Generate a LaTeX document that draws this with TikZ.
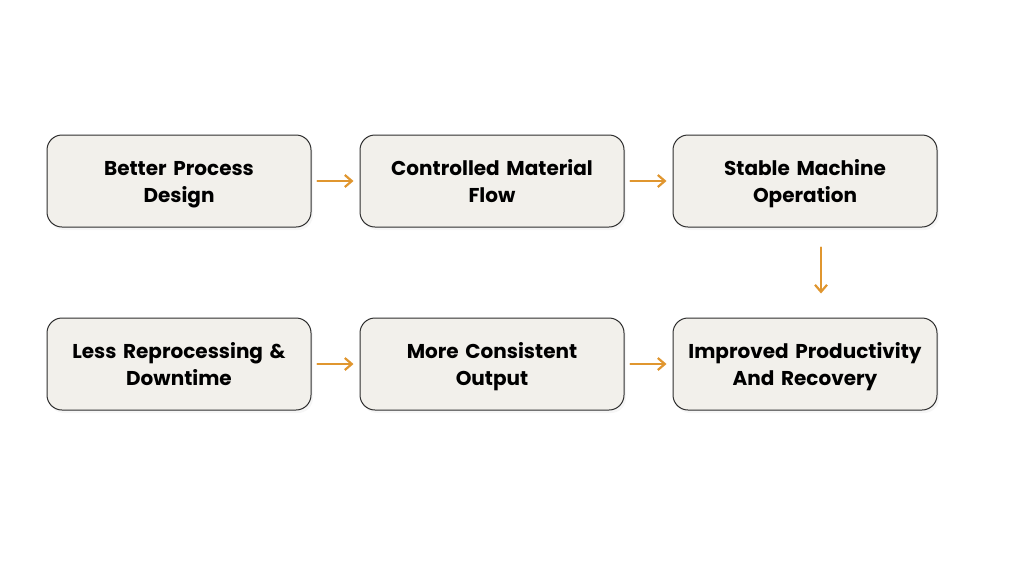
\documentclass[tikz,border=0pt]{standalone}
\usepackage{fontspec}
\setmainfont{Poppins}
\usetikzlibrary{positioning,shadows,arrows.meta}
\definecolor{boxfill}{HTML}{F2F0EB}
\definecolor{boxline}{HTML}{2E2E2E}
\definecolor{flowc}{HTML}{E0962F}
\begin{document}
\begin{tikzpicture}[x=1pt, y=-1pt, font=\bfseries\fontsize{20}{27}\selectfont, line join=round, line cap=round, >={Straight Barb[length=7pt,width=12pt]}]
			\tikzset{stage/.style={draw=boxline, line width=1pt, fill=boxfill, rounded corners=15pt, minimum width=264pt, minimum height=92pt, text width=255pt, align=center, execute at begin node={\rule{0pt}{24pt}}, execute at end node=\strut, drop shadow={opacity=0.07, shadow xshift=2pt, shadow yshift=-3pt}},
				flow/.style={->, draw=flowc, line width=2.2pt}}
			\useasboundingbox (0,0) rectangle (1024,576);
			%%%%%%%%%%%%%%%%%%%%%%%%%%%%%%%%%
			\node[stage] (design) at (179,181) {Better Process\\Design};
			\node[stage, right=48pt of design] (material) {Controlled Material\\Flow};
			\node[stage, right=48pt of material] (machine) {Stable Machine\\Operation};
			\node[stage] (rework) at (179,364) {Less Reprocessing \&\\Downtime};
			\node[stage, right=48pt of rework] (output) {More Consistent\\Output};
			\node[stage, right=48pt of output] (recovery) {Improved Productivity\\And Recovery};
			%%%%%%%%%%%%%%%%%%%%%%%%%%%%%%%%%
			\draw[flow, shorten <=6pt, shorten >=6pt] (design) -- (material);
			\draw[flow, shorten <=6pt, shorten >=6pt] (material) -- (machine);
			\draw[flow, shorten <=20pt, shorten >=24pt] ([xshift=16pt]machine.south) -- ([xshift=16pt]recovery.north);
			\draw[flow, shorten <=6pt, shorten >=6pt] (rework) -- (output);
			\draw[flow, shorten <=6pt, shorten >=6pt] (output) -- (recovery);
			%%%%%%%%%%%%%%%%%%%%%%%%%%%%%%%%%
		\end{tikzpicture}
\end{document}
